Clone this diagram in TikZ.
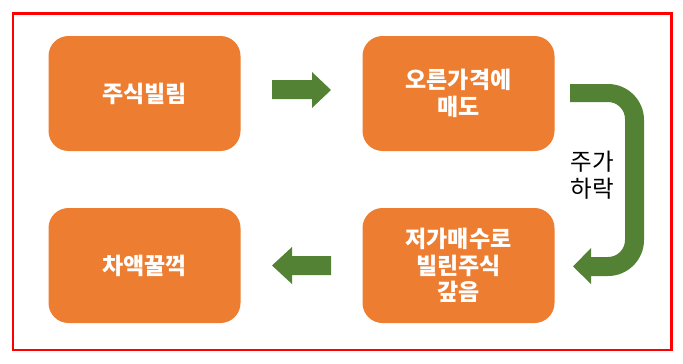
\documentclass[tikz,border=0pt]{standalone}
\usepackage{fontspec}
\newfontfamily\kr{Noto Sans CJK KR}
\definecolor{boxorange}{HTML}{ED7D31}
\definecolor{arrgreen}{HTML}{548235}
\tikzset{
  stepbox/.style={fill=boxorange, rounded corners=20pt, minimum width=192pt, minimum height=115pt,
    text=white, font=\kr\bfseries\fontsize{23}{26.5}\selectfont, align=center, inner sep=0pt},
  blockarrow/.style={fill=arrgreen, draw=none},
  note/.style={font=\kr\fontsize{23.5}{27}\selectfont, align=center, text=black}
}
\begin{document}
\begin{tikzpicture}[x=1pt,y=-1pt]
\useasboundingbox (0,0) rectangle (683,364);
\draw[red, line width=2.5pt] (13,13.5) rectangle (671.5,350);
\node[stepbox] (a) at (144.5,93.5) {주식빌림};
\node[stepbox] (b) at (458.5,93.5) {오른가격에\\매도};
\node[stepbox] (c) at (458.5,265.5) {저가매수로\\빌린주식\\갚음};
\node[stepbox] (d) at (144.5,265.5) {차액꿀꺽};
% right arrow a -> b
\fill[blockarrow] (272,80) -- (312,80) -- (312,72) -- (331,90) -- (312,108) -- (312,99) -- (272,99) -- cycle;
% left arrow c -> d
\fill[blockarrow] (331,256) -- (292,256) -- (292,247) -- (272,265.5) -- (292,284) -- (292,275) -- (331,275) -- cycle;
% curved arrow b -> c
\fill[blockarrow] (570,84) -- (608,84) arc[start angle=-90, end angle=0, radius=36]
  -- (644,240) arc[start angle=0, end angle=90, radius=36]
  -- (591,276) -- (591,284) -- (573,266.5) -- (591,248) -- (591,257)
  -- (608,257) arc[start angle=90, end angle=0, radius=17]
  -- (625,119) arc[start angle=0, end angle=-90, radius=17]
  -- (570,102) -- cycle;
\node[note] (n) at (592,175) {주가\\하락};
\end{tikzpicture}
\end{document}
